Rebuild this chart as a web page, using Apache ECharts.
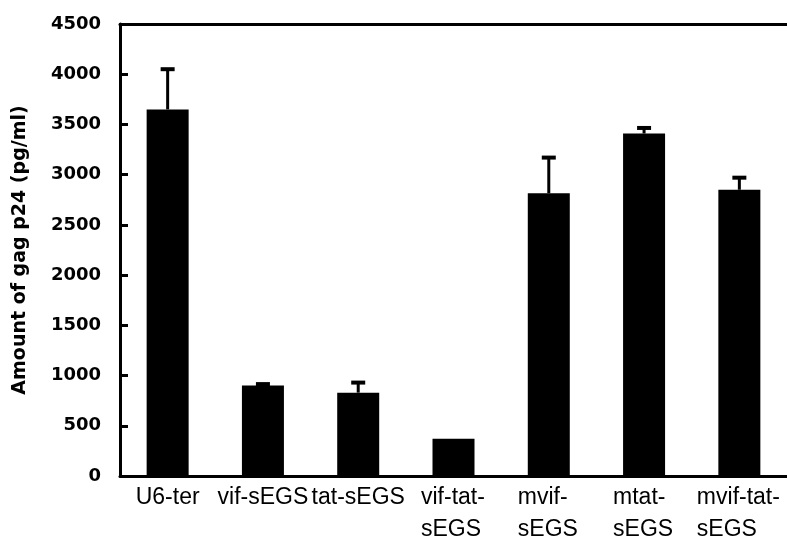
<!DOCTYPE html>
<html>
<head>
<meta charset="utf-8">
<script src="https://cdn.jsdelivr.net/npm/echarts@6/dist/echarts.min.js"></script>
<style>
html,body{margin:0;padding:0;background:#fff;}
#chart{width:787px;height:546px;}
</style>
</head>
<body>
<div id="chart"></div>
<script>
var categories = ["U6-ter", "vif-sEGS", "tat-sEGS", "vif-tat-\nsEGS", "mvif-\nsEGS", "mtat-\nsEGS", "mvif-tat-\nsEGS"];
var values = [3650, 900, 830, 370, 2815, 3410, 2850];
var errors = [400, 15, 100, 0, 355, 55, 120];
var yTicks = [0, 500, 1000, 1500, 2000, 2500, 3000, 3500, 4000, 4500];

var LABEL_SIZE = 23;
var measureCtx = document.createElement('canvas').getContext('2d');
measureCtx.font = LABEL_SIZE + 'px "Liberation Sans"';
var rich = {};
categories.forEach(function (c, i) {
  var w = 0;
  c.split('\n').forEach(function (l) { w = Math.max(w, measureCtx.measureText(l).width); });
  rich['c' + i] = { width: Math.ceil(w) + 1, align: 'left', fontFamily: 'Liberation Sans', fontSize: LABEL_SIZE, color: '#000', lineHeight: 32 };
});

var chart = echarts.init(document.getElementById('chart'));
var errData = values.map(function (v, i) { return [i, v, errors[i]]; });

var option = {
  animation: false,
  backgroundColor: '#fff',
  grid: { left: 120, right: -4, top: 24, bottom: 65, containLabel: false },
  xAxis: [{
    type: 'category',
    data: categories,
    position: 'bottom',
    boundaryGap: true,
    axisLine: { lineStyle: { color: '#000', width: 3 } },
    axisTick: { inside: true, length: 7, lineStyle: { color: '#000', width: 3 } },
    axisLabel: {
      margin: 6,
      interval: 0,
      color: '#000',
      fontFamily: 'Liberation Sans',
      fontSize: LABEL_SIZE,
      lineHeight: 32,
      formatter: function (val, idx) {
        if (val.indexOf('\n') < 0) return val;
        return val.split('\n').map(function (l) { return '{c' + idx + '|' + l + '}'; }).join('\n');
      },
      rich: rich
    },
    splitLine: { show: false }
  }, {
    type: 'category',
    data: categories,
    position: 'top',
    axisLine: { show: true, lineStyle: { color: '#000', width: 3 } },
    axisTick: { show: false },
    axisLabel: { show: false }
  }],
  yAxis: {
    type: 'value',
    min: 0,
    max: 4500,
    interval: 500,
    name: 'Amount of gag p24 (pg/ml)',
    nameLocation: 'middle',
    nameGap: 90,
    nameRotate: 90,
    nameTextStyle: { color: '#000', fontFamily: 'DejaVu Sans', fontWeight: 'bold', fontSize: 19 },
    axisLine: { show: true, lineStyle: { color: '#000', width: 3 } },
    axisTick: { show: true, inside: true, length: 8, lineStyle: { color: '#000', width: 3 } },
    axisLabel: {
      margin: 19,
      color: '#000',
      fontFamily: 'DejaVu Sans',
      fontWeight: 'bold',
      fontSize: 18,
      formatter: function (v) { return yTicks.indexOf(v) >= 0 ? String(v) : ''; }
    },
    splitLine: { show: false }
  },
  series: [{
    type: 'bar',
    data: values,
    barWidth: 42,
    itemStyle: { color: '#000' },
    z: 2
  }, {
    type: 'custom',
    data: errData,
    z: 3,
    renderItem: function (params, api) {
      var i = api.value(0), v = api.value(1), e = api.value(2);
      if (!e) return null;
      var base = api.coord([i, v]);
      var top = api.coord([i, v + e]);
      return {
        type: 'group',
        children: [{
          type: 'line',
          shape: { x1: base[0], y1: base[1], x2: top[0], y2: top[1] },
          style: { stroke: '#000', lineWidth: 3 }
        }, {
          type: 'line',
          shape: { x1: top[0] - 7, y1: top[1], x2: top[0] + 7, y2: top[1] },
          style: { stroke: '#000', lineWidth: 4 }
        }]
      };
    }
  }]
};
chart.setOption(option);
</script>
</body>
</html>
